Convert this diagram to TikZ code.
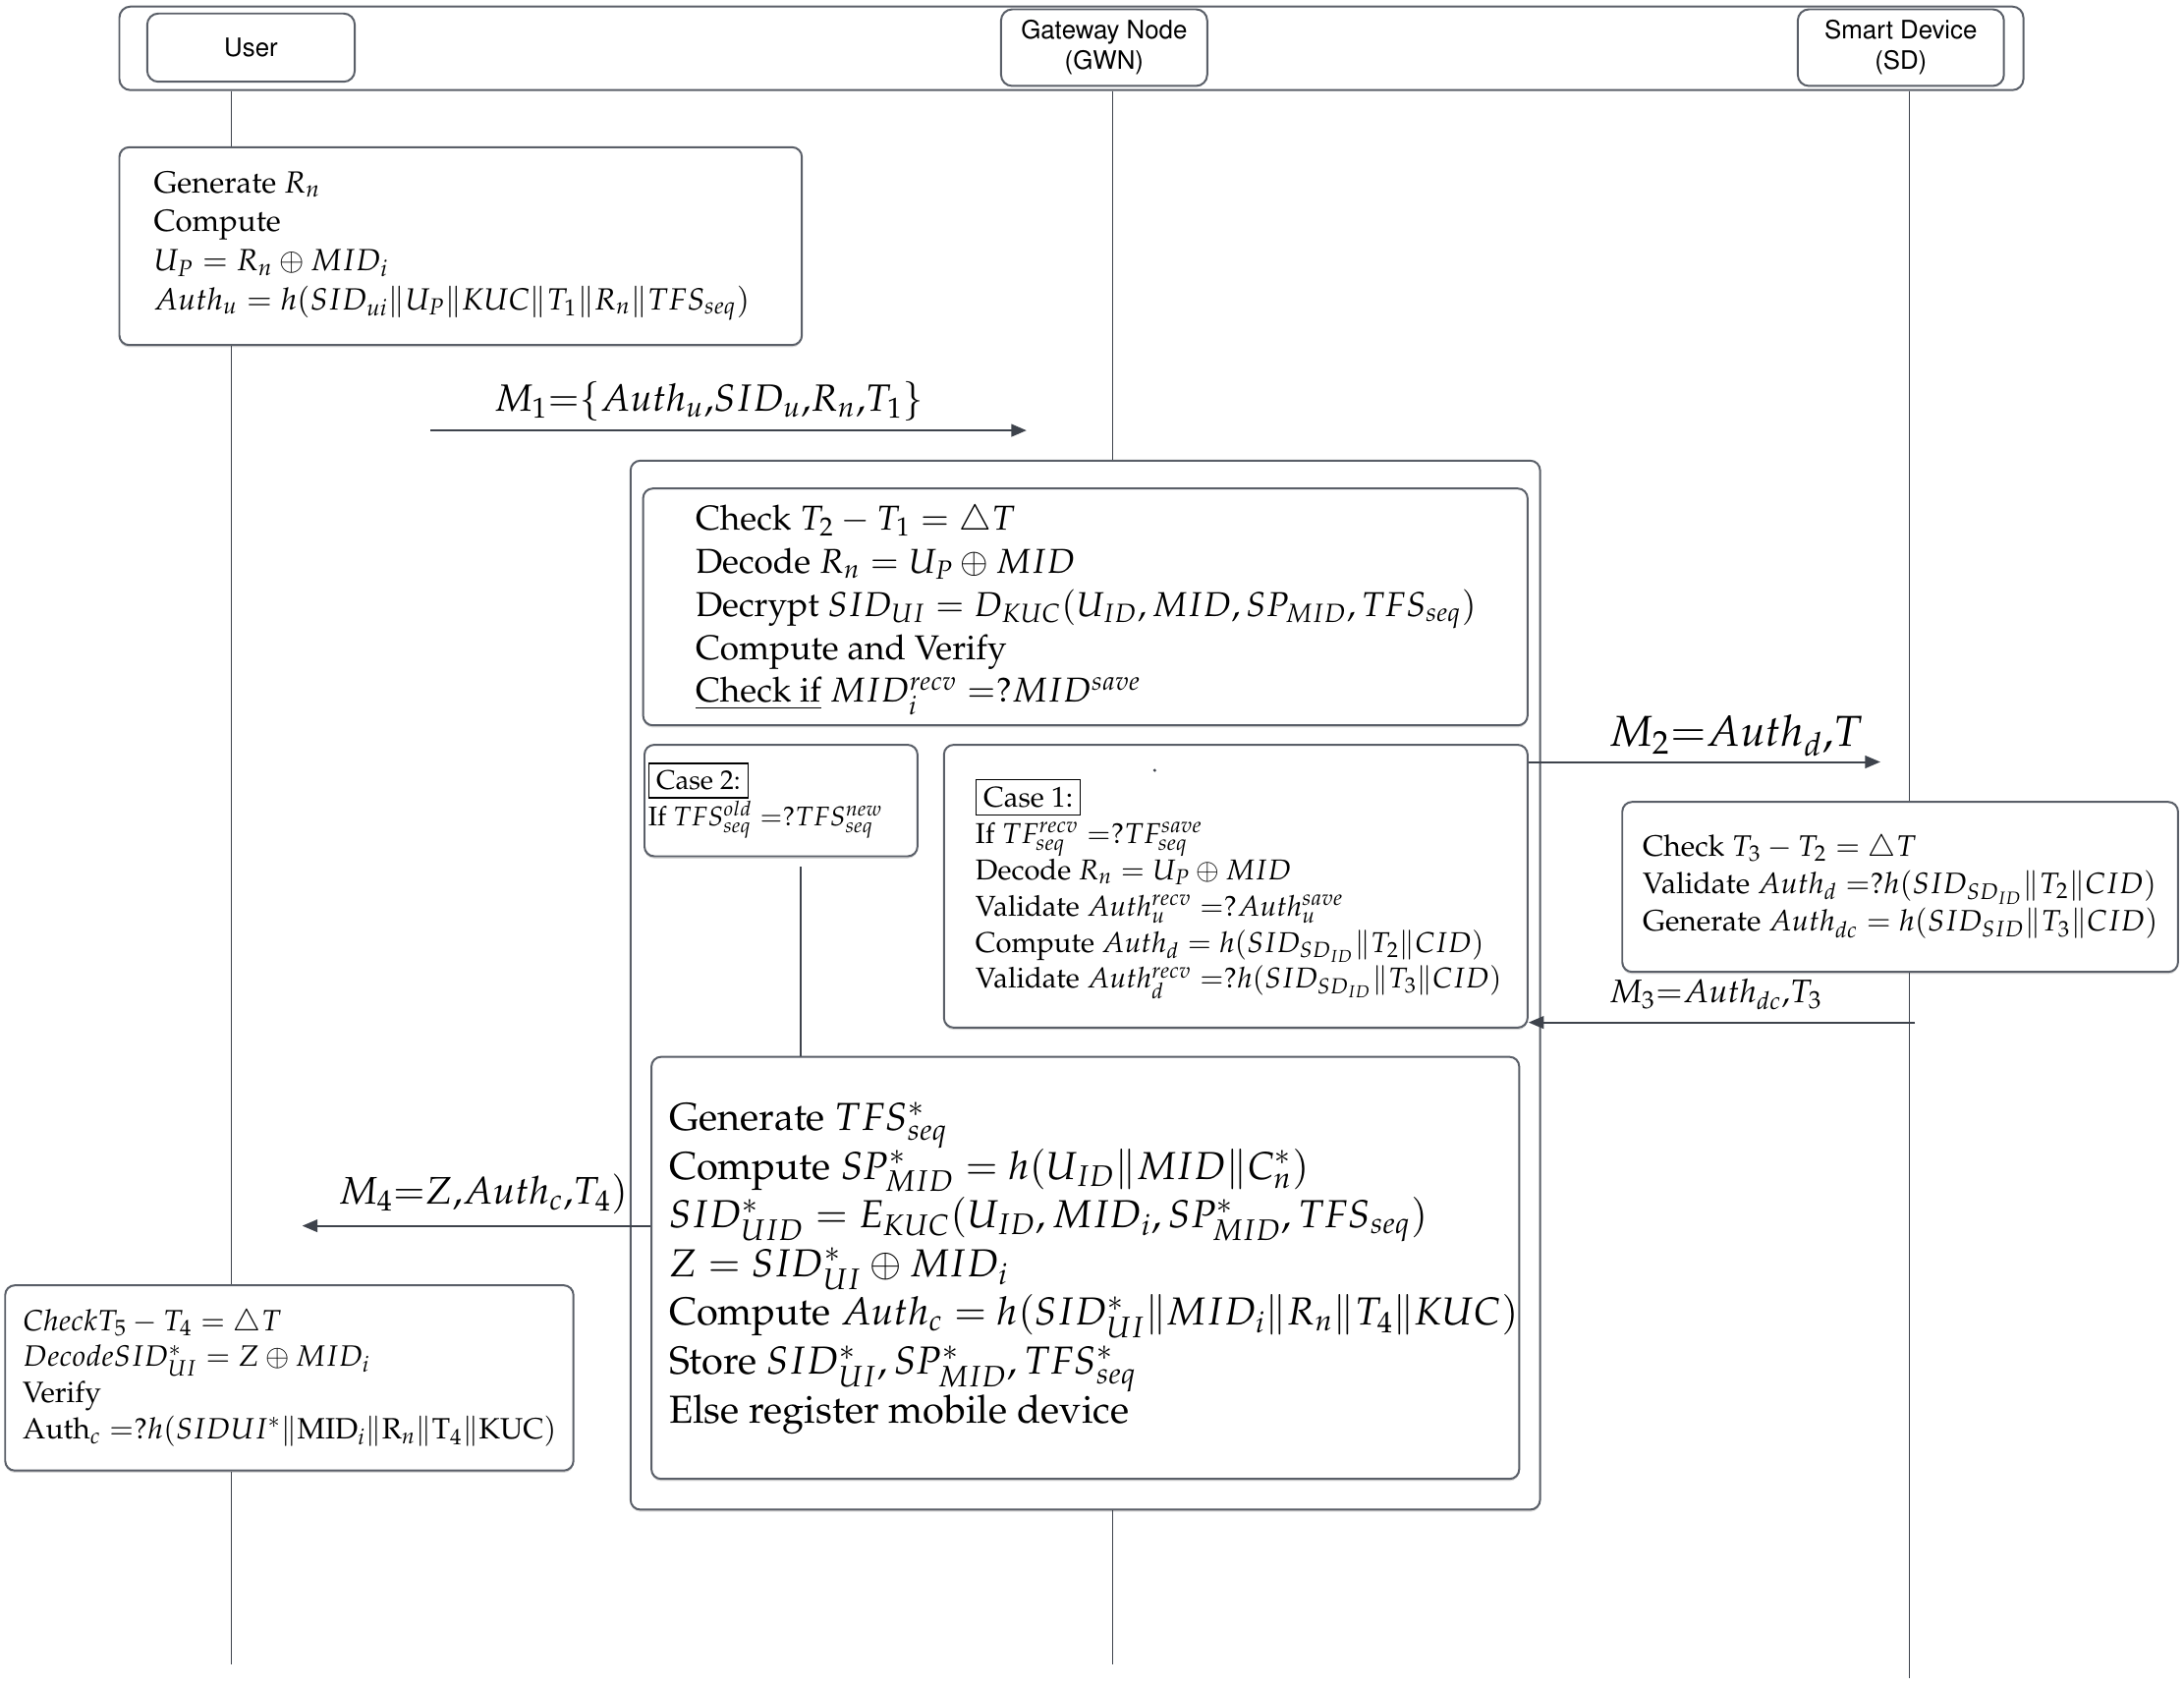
\documentclass[tikz,border=0pt]{standalone}
\usepackage[T1]{fontenc}
\usepackage{mathpazo}
\usepackage[scaled=0.92]{helvet}
\usetikzlibrary{arrows.meta,calc,shadows}
\definecolor{lc}{HTML}{3E434C}
\definecolor{bc}{HTML}{5A5F68}
\newcommand{\myeqq}{\;{=}?}
\begin{document}
\begin{tikzpicture}[x=0.5pt,y=-0.5pt,
  box/.style={draw=bc, line width=0.7pt, rounded corners=3.5pt, fill=white, anchor=north west, inner sep=0pt,
    drop shadow={shadow xshift=0pt, shadow yshift=-0.8pt, opacity=0.3, fill=gray}},
  txt/.style={anchor=west, align=left, inner sep=0pt, text=black},
  actor/.style={draw=bc, line width=0.7pt, rounded corners=4pt, anchor=north west, inner sep=0pt, align=center,
    font=\sffamily\fontsize{9.9}{11}\selectfont},
  life/.style={draw=lc, line width=0.5pt},
  msg/.style={draw=lc, line width=0.7pt, -{Triangle[length=5.5pt,width=4.5pt]}},
  mlab/.style={inner sep=0pt, text=black}]
\useasboundingbox (0,0) rectangle (1568,1210.4);

% header
\node[actor, minimum width=683.5pt, minimum height=30pt] (head) at (85,4) {};
\node[actor, minimum width=74.5pt, minimum height=24.5pt] (user) at (105,9) {User};
\node[actor, minimum width=74pt, minimum height=27.5pt] (gwn) at (718,6) {Gateway Node\\(GWN)};
\node[actor, minimum width=74pt, minimum height=27.5pt] (sd) at (1290,6) {Smart Device\\(SD)};

% lifeline x positions
\coordinate (lu) at (166,0);
\coordinate (lg) at (799,0);
\coordinate (ls) at (1371,0);
\coordinate (luend) at (166,1195);
\coordinate (lgend) at (799,1195);
\coordinate (lsend) at (1371,1205);

% user box 1
\node[box, minimum width=245pt, minimum height=71pt] (u1) at (85,105) {};
\node[txt, font=\fontsize{11}{14}\selectfont] (u1t) at ([xshift=12.5pt]u1.west) {Generate $R_n$\\
Compute\\
$U_P = R_n \oplus MID_i$\\
$Auth_u = h(SID_{ui}\|U_P\|KUC\|T_1\|R_n\|TFS_{seq})$};

% M1
\coordinate (m1s) at (309,309);
\coordinate (m1e) at (737,309);
\draw[msg] (m1s) -- (m1e);
\node[mlab, font=\fontsize{13.6}{16}\selectfont] (m1l) at (509,288) {$M_1{=}\{Auth_u{,}SID_u{,}R_n{,}T_1\}$};

% GWN big box
\node[box, minimum width=326.5pt, minimum height=376.5pt] (gw) at (452,330) {};
\node[box, minimum width=317.5pt, minimum height=85pt] (g1) at (461,350) {};
\node[txt, font=\fontsize{12.4}{15.5}\selectfont] (g1t) at ([xshift=19pt,yshift=-1pt]g1.west) {Check $T_2 - T_1 = \triangle T$\\
Decode $R_n = U_P \oplus MID$\\
Decrypt $SID_{UI} = D_{KUC}(U_{ID}, MID, SP_{MID}, TFS_{seq})$\\
Compute and Verify\\
\underline{Check if} $MID_i^{recv}\myeqq MID^{save}$};

% case 2
\node[box, minimum width=98pt, minimum height=40pt] (c2) at (462,534) {};
\node[txt, font=\fontsize{9.7}{13}\selectfont] (c2t) at ([xshift=1.5pt]c2.west) {\setlength{\fboxsep}{2.5pt}\fbox{Case 2:}\\
If $TFS_{seq}^{old}\myeqq TFS_{seq}^{new}$};

% case 1
\node[box, minimum width=209.5pt, minimum height=101.5pt] (c1) at (677,534) {};
\fill[lc] (829,553) circle (0.6pt);
\node[txt, font=\fontsize{10.3}{13}\selectfont] (c1t) at ([xshift=11.5pt,yshift=-1pt]c1.west) {\setlength{\fboxsep}{2.5pt}\fbox{Case 1:}\\
If $TF_{seq}^{recv}\myeqq TF_{seq}^{save}$\\
Decode $R_n = U_P \oplus MID$\\
Validate $Auth_u^{recv}\myeqq Auth_u^{save}$\\
Compute $Auth_d = h(SID_{SD_{ID}}\|T_2\|CID)$\\
Validate $Auth_d^{recv}\myeqq h(SID_{SD_{ID}}\|T_3\|CID)$};

% M2
\coordinate (m2e) at (1350,547);
\draw[msg] (m2e -| c1.east) -- (m2e);
\node[mlab, anchor=west, font=\fontsize{15.5}{17}\selectfont] (m2l) at (1155,528) {$M_2{=}Auth_d{,}T$};

% SD box
\node[box, minimum width=199.5pt, minimum height=61pt] (sd1) at (1164,575) {};
\node[txt, font=\fontsize{10.6}{13.5}\selectfont] (sd1t) at ([xshift=7.5pt]sd1.west) {Check $T_3 - T_2 = \triangle T$\\
Validate $Auth_d\myeqq h(SID_{SD_{ID}}\|T_2\|CID)$\\
Generate $Auth_{dc} = h(SID_{SID}\|T_3\|CID)$};

% M3
\coordinate (m3s) at (1375,734);
\draw[msg] (m3s) -- (m3s -| c1.east);
\node[mlab, anchor=west, font=\fontsize{11.7}{15}\selectfont] (m3l) at (1155,714) {$M_3{=}Auth_{dc}{,}T_3$};

% GWN lower box
\node[box, minimum width=311.5pt, minimum height=151.5pt] (g2) at (467,758) {};
\node[txt, font=\fontsize{14}{17.5}\selectfont] (g2t) at ([xshift=6.5pt]g2.west) {Generate $TFS_{seq}^*$\\
Compute $SP_{MID}^* = h(U_{ID}\|MID\|C_n^*)$\\
$SID_{UID}^* = E_{KUC}(U_{ID}, MID_i, SP_{MID}^*, TFS_{seq})$\\
$Z = SID_{UI}^* \oplus MID_i$\\
Compute $Auth_c = h(SID_{UI}^*\|MID_i\|R_n\|T_4\|KUC)$\\
Store $SID_{UI}^*, SP_{MID}^*, TFS_{seq}^*$\\
Else register mobile device};

% connector case 2 -> lower box
\coordinate (cx) at (575,0);
\draw[life] ([yshift=-3.5pt]cx |- c2.south) -- (cx |- g2.north);

% M4
\coordinate (m4e) at (217,880);
\draw[msg] (m4e -| g2.west) -- (m4e);
\node[mlab, anchor=east, font=\fontsize{13.8}{16}\selectfont] (m4l) at (451,857) {$M_4{=}Z{,}Auth_c{,}T_4)$};

% user box 2
\node[box, minimum width=204pt, minimum height=66.5pt] (u2) at (3,922) {};
\node[txt, font=\fontsize{10.55}{13}\selectfont] (u2t) at ([xshift=6.5pt]u2.west) {$Check T_5 - T_4 = \triangle T$\\
$Decode SID_{UI}^* = Z \oplus MID_i$\\
Verify\\
Auth$_c\myeqq h(SIDUI^*\|\mathrm{MID}_i\|\mathrm{R}_n\|\mathrm{T}_4\|\mathrm{KUC})$};

% lifelines
\draw[life] (lu |- head.south) -- (lu |- u1.north);
\draw[life] (lu |- u1.south) -- (lu |- u2.north);
\draw[life] (lu |- u2.south) -- (luend);
\draw[life] (lg |- head.south) -- (lg |- gw.north);
\draw[life] (lg |- gw.south) -- (lgend);
\draw[life] (ls |- head.south) -- (ls |- sd1.north);
\draw[life] (ls |- sd1.south) -- (lsend);
\end{tikzpicture}
\end{document}
